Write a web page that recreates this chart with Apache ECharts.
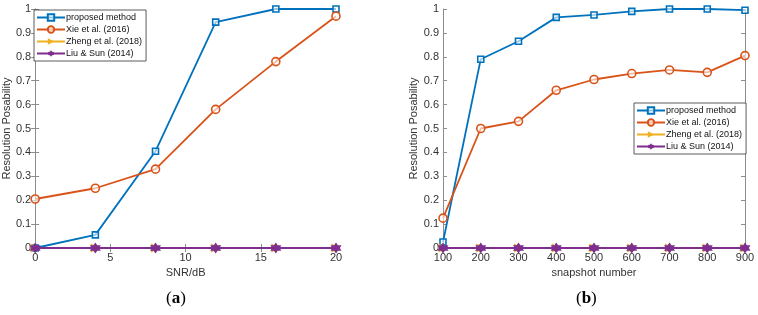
<!DOCTYPE html>
<html>
<head>
<meta charset="utf-8">
<script src="https://cdn.jsdelivr.net/npm/echarts@6/dist/echarts.min.js"></script>
<style>
  html, body { margin: 0; padding: 0; background: #fff; }
  #chart { width: 758px; height: 315px; }
</style>
</head>
<body>
<div id="chart"></div>
<script>
  // (a) resolution vs SNR
  var snr = [0, 4, 8, 12, 16, 20]
  var snrProposed = [0, 0.055, 0.405, 0.945, 1, 1]
  var snrXie = [0.205, 0.25, 0.33, 0.58, 0.78, 0.97]
  var snrZheng = [0, 0, 0, 0, 0, 0]
  var snrLiu = [0, 0, 0, 0, 0, 0]

  // (b) resolution vs snapshot number
  var snapshots = [100, 200, 300, 400, 500, 600, 700, 800, 900]
  var snapProposed = [0.025, 0.79, 0.865, 0.965, 0.975, 0.99, 1, 1, 0.995]
  var snapXie = [0.125, 0.5, 0.53, 0.66, 0.705, 0.73, 0.745, 0.735, 0.805]
  var snapZheng = [0, 0, 0, 0, 0, 0, 0, 0, 0]
  var snapLiu = [0, 0, 0, 0, 0, 0, 0, 0, 0]

  var names = ['proposed method', 'Xie et al. (2016)', 'Zheng et al. (2018)', 'Liu & Sun (2014)']

  var colors = ['#0072BD', '#D95319', '#EDB120', '#7E2F8E']
  var axisColor = '#8c8c8c'
  var textColor = '#333'
  var font = 'Liberation Sans'
  // fat six-pointed star, stands in for matlab's hexagram marker
  var starPath = 'path://M50,0 L65,24 L93,25 L80,50 L93,75 L65,76 L50,100 L35,76 L7,75 L20,50 L7,25 L35,24 Z'

  function pairs(xs, ys) {
    return xs.map(function (x, i) { return [x, ys[i]] })
  }

  function makeSeries(idx, xs, lists) {
    var marks = [
      {symbol: 'rect', symbolSize: 6, hollow: true},
      {symbol: 'circle', symbolSize: 8, hollow: true},
      {symbol: 'triangle', symbolSize: 9, hollow: false, rotate: -90},
      {symbol: starPath, symbolSize: 11, hollow: false}
    ]
    return lists.map(function (ys, k) {
      var m = marks[k]
      return {
        name: names[k],
        type: 'line',
        xAxisIndex: idx * 2,
        yAxisIndex: idx * 2,
        data: pairs(xs, ys),
        symbol: m.symbol,
        symbolSize: m.symbolSize,
        symbolRotate: m.rotate || 0,
        showAllSymbol: true,
        animation: false,
        z: 2 + k,
        lineStyle: {color: colors[k], width: k === 3 ? 2.2 : 1.8},
        itemStyle: {
          color: m.hollow ? 'rgba(255,255,255,0.6)' : colors[k],
          borderColor: colors[k],
          borderWidth: m.hollow ? 1.6 : 0
        }
      }
    })
  }

  function xAxisPair(grid, min, max, interval, name) {
    var base = {
      gridIndex: grid,
      type: 'value',
      min: min,
      max: max,
      interval: interval,
      axisLine: {show: true, lineStyle: {color: axisColor, width: 1}},
      axisTick: {show: true, inside: true, length: 4, lineStyle: {color: axisColor}},
      splitLine: {show: false}
    }
    var bottom = Object.assign({}, base, {
      position: 'bottom',
      name: name,
      nameLocation: 'middle',
      nameGap: 17,
      nameTextStyle: {color: textColor, fontSize: 11, fontFamily: font},
      axisLabel: {color: textColor, fontSize: 11, fontFamily: font, margin: 4}
    })
    var top = Object.assign({}, base, {
      position: 'top',
      axisLabel: {show: false}
    })
    return [bottom, top]
  }

  function yAxisPair(grid) {
    var base = {
      gridIndex: grid,
      type: 'value',
      min: 0,
      max: 1,
      interval: 0.1,
      axisLine: {show: true, lineStyle: {color: axisColor, width: 1}},
      axisTick: {show: true, inside: true, length: 4, lineStyle: {color: axisColor}},
      splitLine: {show: false}
    }
    var left = Object.assign({}, base, {
      position: 'left',
      name: 'Resolution Posability',
      nameLocation: 'middle',
      nameGap: 22,
      nameTextStyle: {color: textColor, fontSize: 11, fontFamily: font},
      axisLabel: {
        color: textColor, fontSize: 11, fontFamily: font, margin: 4,
        formatter: function (v) { return String(+v.toFixed(1)) }
      }
    })
    var right = Object.assign({}, base, {
      position: 'right',
      axisLabel: {show: false}
    })
    return [left, right]
  }

  function legendAt(left, top) {
    return {
      data: names,
      orient: 'vertical',
      left: left,
      top: top,
      itemWidth: 28,
      itemHeight: 8,
      itemGap: 3,
      padding: [3, 4, 3, 2],
      borderColor: '#333',
      borderWidth: 0.8,
      backgroundColor: '#fff',
      textStyle: {color: '#111', fontSize: 9, fontFamily: font, padding: [0, 0, 0, -4]},
      selectedMode: false
    }
  }

  var chart = echarts.init(document.getElementById('chart'), null, {renderer: 'canvas'})

  var xa = xAxisPair(0, 0, 20, 5, 'SNR/dB')
  var xb = xAxisPair(1, 100, 900, 100, 'snapshot number')
  var ya = yAxisPair(0)
  var yb = yAxisPair(1)

  chart.setOption({
    backgroundColor: '#fff',
    animation: false,
    grid: [
      {left: 33, top: 9, width: 303, height: 239},
      {left: 443, top: 9, width: 302, height: 239}
    ],
    xAxis: [xa[0], xa[1], xb[0], xb[1]],
    yAxis: [ya[0], ya[1], yb[0], yb[1]],
    legend: [legendAt(34, 10), legendAt(634, 103)],
    series: makeSeries(0, snr, [snrProposed, snrXie, snrZheng, snrLiu])
      .concat(makeSeries(1, snapshots, [snapProposed, snapXie, snapZheng, snapLiu])),
    graphic: [
      {
        type: 'text', left: 166, top: 290,
        style: {
          text: '({b|a})',
          rich: {b: {fontWeight: 'bold', fontSize: 17, fontFamily: 'Liberation Serif', fill: '#000'}},
          fontSize: 17, fontFamily: 'Liberation Serif', fill: '#000'
        }
      },
      {
        type: 'text', left: 576, top: 290,
        style: {
          text: '({b|b})',
          rich: {b: {fontWeight: 'bold', fontSize: 17, fontFamily: 'Liberation Serif', fill: '#000'}},
          fontSize: 17, fontFamily: 'Liberation Serif', fill: '#000'
        }
      }
    ]
  })
</script>
</body>
</html>
